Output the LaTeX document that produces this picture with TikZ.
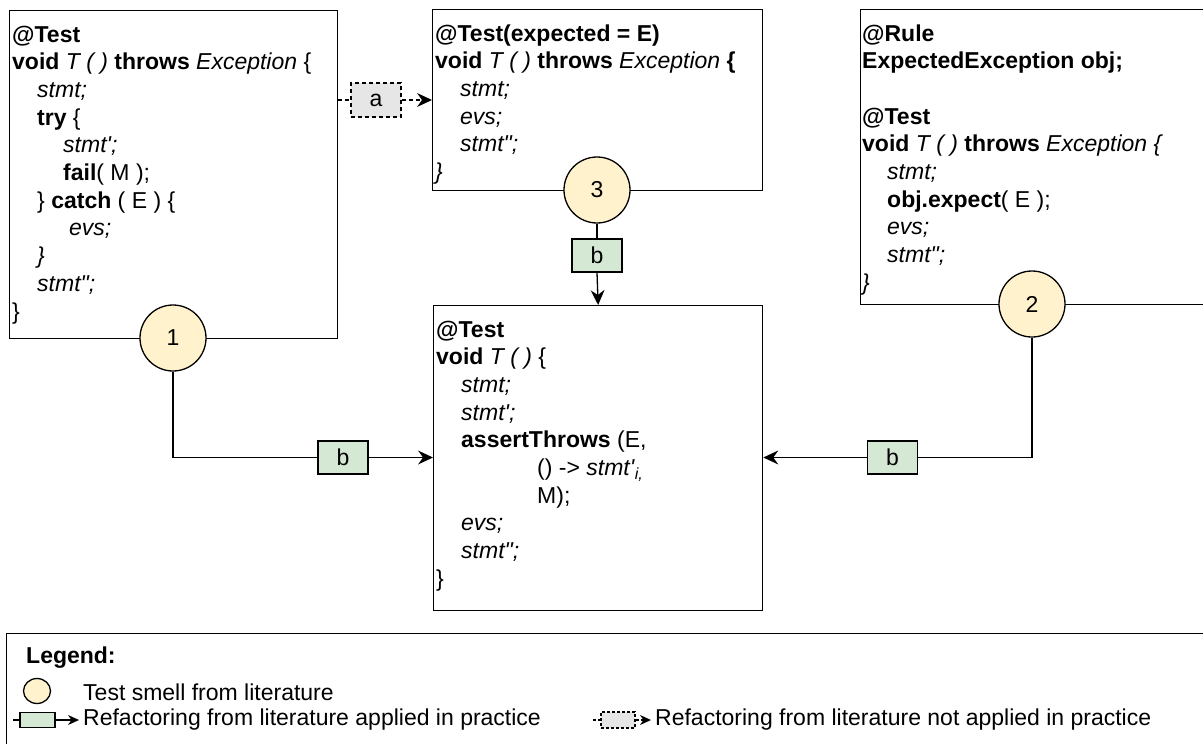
\documentclass[tikz,border=0pt]{standalone}
\usepackage{fontspec}
\setmainfont{Liberation Sans}
\usetikzlibrary{arrows.meta,shapes.geometric}

\definecolor{smellfill}{HTML}{FFF2CC}
\definecolor{applied}{HTML}{D5E8D4}
\definecolor{notapplied}{HTML}{E6E6E6}

\newcommand{\sq}{\textquotesingle}
\newcommand{\dq}{\textquotedbl}

\tikzset{
  txt/.style={font=\fontsize{23}{27.7}\selectfont, inner sep=0pt},
  codebox/.style={draw, line width=1.3pt, fill=white, inner sep=0pt, anchor=north west},
  code/.style={txt, align=left, anchor=north west},
  smell/.style={circle, draw, line width=1.3pt, fill=smellfill, minimum size=66pt, txt},
  refb/.style={draw, line width=1.3pt, fill=applied, minimum width=50pt, minimum height=33pt, txt},
  refa/.style={draw, line width=1.3pt, dash pattern=on 4pt off 3pt, fill=notapplied, minimum width=50pt, minimum height=34pt, txt},
  conn/.style={line width=1.3pt},
  dconn/.style={line width=1.3pt, dash pattern=on 4pt off 3pt},
  bigarrow/.style={-{Stealth[length=15pt,width=14pt,inset=5pt,line width=0pt]}},
  smallarrow/.style={-{Stealth[length=11pt,width=10pt,inset=3.5pt,line width=0pt]}},
}

\begin{document}
\begin{tikzpicture}[x=1pt,y=-1pt]
\useasboundingbox (0,0) rectangle (1203,744);
\fill[white] (0,0) rectangle (1203,744);

% code boxes
\node[codebox, minimum width=328pt, minimum height=328pt] (box1) at (9,10) {};
\node[codebox, minimum width=330pt, minimum height=181pt] (box2) at (432,9) {};
\node[codebox, minimum width=350pt, minimum height=295pt] (box3) at (860,9) {};
\node[codebox, minimum width=329pt, minimum height=305pt] (box4) at (433,305) {};

% code listings
\node[code] (code1) at (12,22.5) {\strut\textbf{@Test}\\
\textbf{void} \textit{T ( )} \textbf{throws} \textit{Exception} \{\\
\hspace*{25pt}\textit{stmt;}\\
\hspace*{25pt}\textbf{try} \{\\
\hspace*{51pt}\textit{stmt\sq;}\\
\hspace*{51pt}\textbf{fail}( M );\\
\hspace*{25pt}\} \textbf{catch} ( E ) \{\\
\hspace*{57pt}\textit{evs;}\\
\hspace*{25pt}\textit{\}}\\
\hspace*{25pt}\textit{stmt\dq;}\\
\}};

\node[code] (code2) at (435,21.5) {\strut\textbf{@Test(expected = E)}\\
\textbf{void} \textit{T ( )} \textbf{throws} \textit{Exception} \textbf{\{}\\
\hspace*{25pt}\textit{stmt;}\\
\hspace*{25pt}\textit{evs;}\\
\hspace*{25pt}\textit{stmt\dq;}\\
\textit{\}}};

\node[code] (code3) at (862,21.5) {\strut\textbf{@Rule}\\
\textbf{ExpectedException obj;}\\
\mbox{}\\
\textbf{@Test}\\
\textbf{void} \textit{T ( )} \textbf{throws} \textit{Exception \{}\\
\hspace*{25pt}\textit{stmt;}\\
\hspace*{25pt}\textbf{obj.expect}( E );\\
\hspace*{25pt}\textit{evs;}\\
\hspace*{25pt}\textit{stmt\dq;}\\
\textit{\}}};

\node[code] (code4) at (436,317.5) {\strut\textbf{@Test}\\
\textbf{void} \textit{T ( )} \{\\
\hspace*{25pt}\textit{stmt;}\\
\hspace*{25pt}\textit{stmt\sq;}\\
\hspace*{25pt}\textbf{assertThrows} (E,\\
\hspace*{101pt}() -> \textit{stmt\sq}\textsubscript{\textit{i,}}\\
\hspace*{101pt}M);\\
\hspace*{25pt}\textit{evs;}\\
\hspace*{25pt}\textit{stmt\dq;}\\
\}};

% test smells, sitting on the bottom edges of the boxes
\node[smell] (c1) at (173,338) {1};
\node[smell] (c3) at (597,190) {3};
\node[smell] (c2) at (1032,304) {2};

% refactoring labels
\node[refa] (la) at (376,100) {a};
\node[refb] (lb3) at (597,255.5) {b};
\node[refb] (lb1) at (343,457.5) {b};
\node[refb] (lb2) at (892.5,457.5) {b};

% connectors
\draw[dconn] (box1.east |- la) -- (la.west);
\draw[dconn, bigarrow] (la.east) -- (box2.west |- la);
\draw[conn] (c3.south) -- (lb3.north);
\draw[conn, bigarrow] (lb3.south) -- (box4.north);
\draw[conn] (c1.south) |- (lb1.west);
\draw[conn, bigarrow] (lb1.east) -- (box4.west |- lb1);
\draw[conn] (c2.south) |- (lb2.east);
\draw[conn, bigarrow] (lb2.west) -- (box4.east |- lb2);

% legend
\node[codebox, minimum width=1210pt, minimum height=120pt] (legend) at (6,633) {};
\node[txt, anchor=west] (lgtitle) at (26,658) {\textbf{Legend:}};
\node[ellipse, draw, line width=1.3pt, fill=smellfill, minimum width=27pt, minimum height=25pt, inner sep=0pt] (lgsmell) at (37,691) {};
\node[txt, anchor=west] (lgsmelltxt) at (83,692) {Test smell from literature};
\coordinate (lgbstart) at (13,720);
\node[draw, line width=1.3pt, fill=applied, minimum width=35pt, minimum height=15pt, inner sep=0pt] (lgb) at (37.5,720) {};
\node[txt, anchor=west] (lgbtxt) at (83,720) {Refactoring from literature applied in practice};
\draw[conn] (lgbstart) -- (lgb.west);
\draw[conn, smallarrow, shorten >=4pt] (lgb.east) -- (lgbtxt.west);
\coordinate (lgastart) at (593,720);
\node[draw, line width=1.3pt, dash pattern=on 3pt off 2pt, fill=notapplied, minimum width=34pt, minimum height=16pt, inner sep=0pt] (lga) at (618,720) {};
\node[txt, anchor=west] (lgatxt) at (655,720) {Refactoring from literature not applied in practice};
\draw[conn, dash pattern=on 3pt off 2pt] (lgastart) -- (lga.west);
\draw[conn, dash pattern=on 3pt off 2pt, smallarrow, shorten >=4pt] (lga.east) -- (lgatxt.west);
\end{tikzpicture}
\end{document}
